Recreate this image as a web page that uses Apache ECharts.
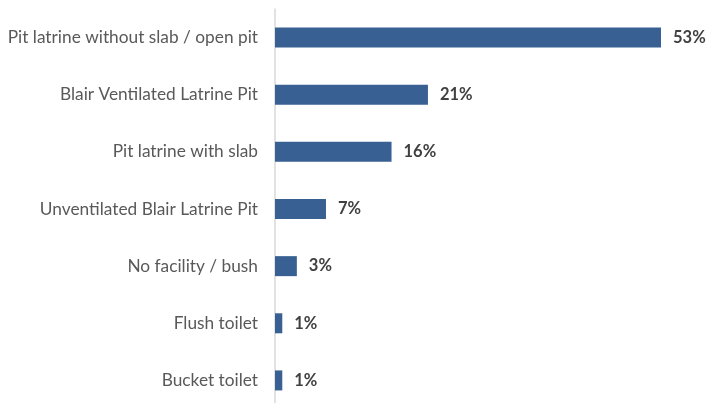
<!DOCTYPE html>
<html>
<head>
<meta charset="utf-8">
<script src="https://cdn.jsdelivr.net/npm/echarts@6/dist/echarts.min.js"></script>
<style>
  html, body { margin: 0; padding: 0; background: #fff; }
  #chart { width: 707px; height: 403px; }
</style>
</head>
<body>
<div id="chart"></div>
<script>
// Sanitation facility categories, listed top to bottom
const categories = [
  'Pit latrine without slab / open pit',
  'Blair Ventilated Latrine Pit',
  'Pit latrine with slab',
  'Unventilated Blair Latrine Pit',
  'No facility / bush',
  'Flush toilet',
  'Bucket toilet'
];
// Share of households (%)
const shares = [53, 21, 16, 7, 3, 1, 1];

const chart = echarts.init(document.getElementById('chart'), null, { renderer: 'canvas' });

chart.setOption({
  animation: false,
  grid: { left: 275, right: 46, top: 9, height: 400, outerBoundsMode: 'none', containLabel: false },
  xAxis: {
    type: 'value',
    min: 0,
    max: 53,
    show: false
  },
  yAxis: {
    type: 'category',
    inverse: true,
    data: categories,
    axisLine: { show: true, lineStyle: { color: '#d9d9d9', width: 1.5 } },
    axisTick: { show: false },
    axisLabel: {
      margin: 17,
      color: '#595959',
      fontFamily: 'Lato, "Liberation Sans", sans-serif',
      fontSize: 17.3
    }
  },
  series: [{
    type: 'bar',
    data: shares,
    barWidth: 20,
    itemStyle: { color: '#386092' },
    label: {
      show: true,
      position: 'right',
      distance: 12,
      formatter: '{c}%',
      color: '#404040',
      fontWeight: 'bold',
      fontFamily: 'Lato, "Liberation Sans", sans-serif',
      fontSize: 16.5
    }
  }]
});
</script>
</body>
</html>
